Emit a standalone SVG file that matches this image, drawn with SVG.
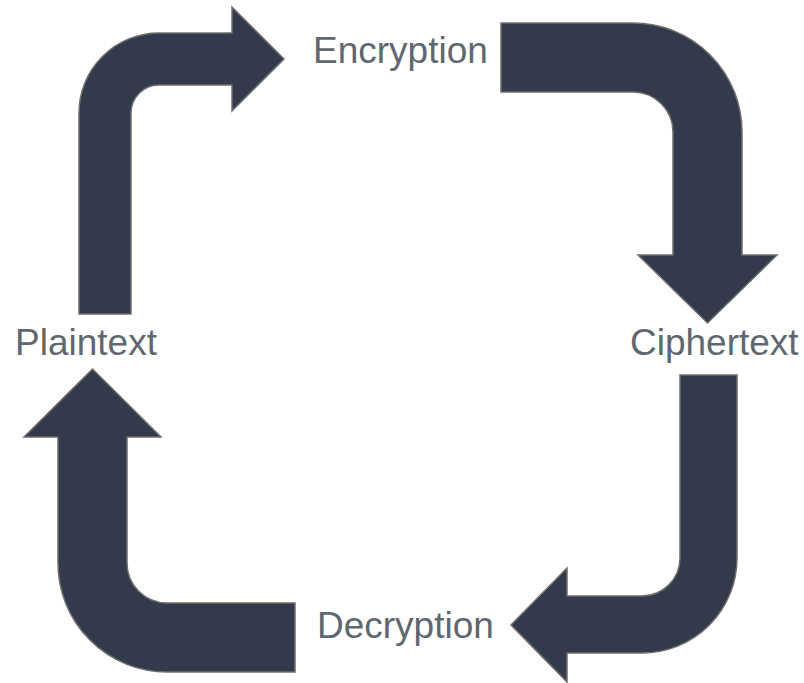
<svg xmlns="http://www.w3.org/2000/svg" width="804" height="683" viewBox="0 0 804 683">
<style>
.lbl{font-family:"Liberation Sans",Arial,sans-serif;font-size:37px;fill:#5f6770}
.arr{fill:#323a4b;stroke:#6e6e6e;stroke-width:1.5;stroke-linejoin:miter}
</style>
<rect width="804" height="683" fill="#ffffff"/>
<g id="connectors">
<path id="a-plain-enc" class="arr" d="M79,314 V113 A80,80 0 0 1 159,33 H232 V7 L284,59 L232,111 V85 H159 A28,28 0 0 0 131,113 V314 Z"/>
<path id="a-enc-ciph" class="arr" d="M501,23 H633 A109,109 0 0 1 742,132 V255 H777 L707.5,323 L638,255 H673 V132 A40,40 0 0 0 633,92 H501 Z"/>
<path id="a-ciph-dec" class="arr" d="M680,375 H737 V558 A95,95 0 0 1 642,653 H567 V682 L511,625 L567,568 V596 H642 A38,38 0 0 0 680,558 Z"/>
<path id="a-dec-plain" class="arr" d="M295,672 H167 A109,109 0 0 1 58,563 V437 H24 L92.5,369 L161,437 H127 V563 A40,40 0 0 0 167,603 H295 Z"/>
</g>
<g id="encryption"><text class="lbl" x="313" y="63">Encryption</text></g>
<g id="ciphertext"><text class="lbl" x="630" y="355">Ciphertext</text></g>
<g id="decryption"><text class="lbl" x="317" y="638">Decryption</text></g>
<g id="plaintext"><text class="lbl" x="15" y="355">Plaintext</text></g>
</svg>
